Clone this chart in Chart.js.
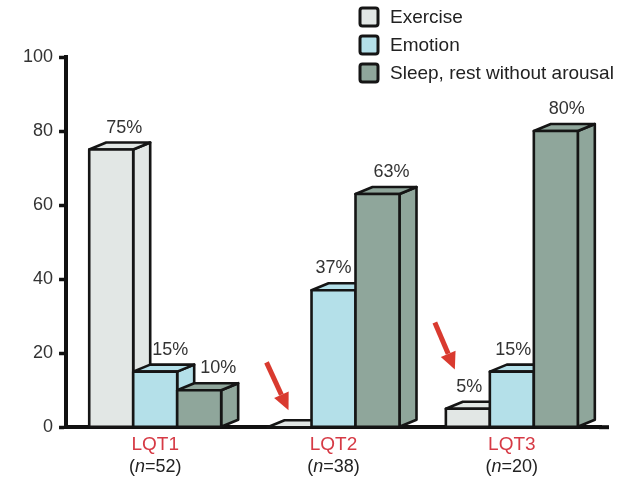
<!DOCTYPE html>
<html>
<head>
<meta charset="utf-8">
<script src="https://cdn.jsdelivr.net/npm/chart.js@4.4.1/dist/chart.umd.min.js"></script>
<style>
  html, body { margin: 0; padding: 0; background: #ffffff; }
  #wrap { width: 634px; height: 478px; position: relative; }
</style>
</head>
<body>
<div id="wrap"><canvas id="c"></canvas></div>
<script>
// ---- data ----
const categories = ['LQT1', 'LQT2', 'LQT3'];
const sampleSizes = [52, 38, 20];
const seriesNames = ['Exercise', 'Emotion', 'Sleep, rest without arousal'];
const exercise = [75, 0, 5];
const emotion = [15, 37, 15];
const sleep = [10, 63, 80];
const yTicks = [0, 20, 40, 60, 80, 100];

// ---- style ----
const FONT = "'Liberation Sans', Arial, Helvetica, sans-serif";
const COLORS = ['#e2e7e5', '#b4e0e9', '#8fa69b'];
const DEPTH_X = 17, DEPTH_Y = 7;
const LABEL_SHIFT = [[13, 0, 1.5], [15, 0, 1.5], [19, 14, 11]]; // per series, per category (px)
const ARROWS = [
  { cat: 1, tailDx: -67, tailV: 17.5, tipDx: -45, tipV: 4.6 },
  { cat: 2, tailDx: -77, tailV: 28.3, tipDx: -57, tipV: 15.6 }
];

function poly(ctx, pts) {
  ctx.beginPath();
  ctx.moveTo(pts[0][0], pts[0][1]);
  for (let k = 1; k < pts.length; k++) ctx.lineTo(pts[k][0], pts[k][1]);
  ctx.closePath();
  ctx.fill();
  ctx.stroke();
}

const bar3d = {
  id: 'bar3d',
  beforeDatasetsDraw(chart) {
    const ctx = chart.ctx;
    const nCat = chart.data.labels.length;
    const labels = [];
    ctx.save();
    ctx.lineWidth = 2.6;
    ctx.strokeStyle = '#151515';
    ctx.lineJoin = 'round';
    for (let i = 0; i < nCat; i++) {
      chart.data.datasets.forEach((ds, d) => {
        const el = chart.getDatasetMeta(d).data[i];
        const p = el.getProps(['x', 'y', 'base', 'width'], true);
        const l = p.x - p.width / 2, r = p.x + p.width / 2, t = p.y, b = p.base;
        ctx.fillStyle = ds.backgroundColor;
        poly(ctx, [[r, t], [r + DEPTH_X, t - DEPTH_Y], [r + DEPTH_X, b - DEPTH_Y], [r, b]]);
        poly(ctx, [[l, t], [l + DEPTH_X, t - DEPTH_Y], [r + DEPTH_X, t - DEPTH_Y], [r, t]]);
        if (b - t > 0.5) poly(ctx, [[l, t], [r, t], [r, b], [l, b]]);
        const v = ds.data[i];
        if (v > 0) labels.push({ x: p.x + LABEL_SHIFT[d][i], y: t - 22, text: v + '%' });
      });
    }
    ctx.fillStyle = '#333';
    ctx.font = '18px ' + FONT;
    ctx.textAlign = 'center';
    ctx.textBaseline = 'middle';
    labels.forEach(lb => ctx.fillText(lb.text, lb.x, lb.y));
    ctx.restore();
    return false;
  },
  afterDraw(chart) {
    const ctx = chart.ctx;
    const xs = chart.scales.x, ys = chart.scales.y;
    const area = chart.chartArea;
    ctx.save();
    // extend x axis line a bit to the right
    ctx.strokeStyle = '#111';
    ctx.lineWidth = 4;
    ctx.beginPath();
    ctx.moveTo(area.right - 2, ys.getPixelForValue(0));
    ctx.lineTo(area.right + 8, ys.getPixelForValue(0));
    ctx.stroke();

    // sample size labels
    ctx.fillStyle = '#222';
    ctx.textBaseline = 'middle';
    ctx.textAlign = 'left';
    const normal = '18px ' + FONT, ital = 'italic 18px ' + FONT;
    sampleSizes.forEach((n, i) => {
      const parts = [['(', normal], ['n', ital], ['=' + n + ')', normal]];
      let w = 0;
      parts.forEach(pt => { ctx.font = pt[1]; w += ctx.measureText(pt[0]).width; });
      let x = xs.getPixelForValue(i) - w / 2;
      const y = ys.getPixelForValue(0) + 40;
      parts.forEach(pt => { ctx.font = pt[1]; ctx.fillText(pt[0], x, y); x += ctx.measureText(pt[0]).width; });
    });

    // arrows
    ctx.strokeStyle = '#d93a2f';
    ctx.fillStyle = '#d93a2f';
    ctx.lineWidth = 5;
    ARROWS.forEach(a => {
      const cx = xs.getPixelForValue(a.cat);
      const x1 = cx + a.tailDx, y1 = ys.getPixelForValue(a.tailV);
      const x2 = cx + a.tipDx, y2 = ys.getPixelForValue(a.tipV);
      const ang = Math.atan2(y2 - y1, x2 - x1);
      const hl = 17, hw = 8;
      const bx = x2 - hl * Math.cos(ang), by = y2 - hl * Math.sin(ang);
      ctx.beginPath();
      ctx.moveTo(x1, y1);
      ctx.lineTo(bx, by);
      ctx.stroke();
      ctx.beginPath();
      ctx.moveTo(x2, y2);
      ctx.lineTo(bx + hw * Math.sin(ang), by - hw * Math.cos(ang));
      ctx.lineTo(bx - hw * Math.sin(ang), by + hw * Math.cos(ang));
      ctx.closePath();
      ctx.fill();
    });

    // legend
    ctx.font = '19px ' + FONT;
    ctx.textAlign = 'left';
    ctx.textBaseline = 'middle';
    chart.data.datasets.forEach((ds, d) => {
      const cy = 17 + d * 28;
      ctx.fillStyle = ds.backgroundColor;
      ctx.strokeStyle = '#151515';
      ctx.lineWidth = 3;
      ctx.beginPath();
      ctx.roundRect(360, cy - 9, 18, 18, 2.5);
      ctx.fill();
      ctx.stroke();
      ctx.fillStyle = '#222';
      ctx.fillText(ds.label, 390, cy + 1);
    });
    ctx.restore();
  }
};

const seriesValues = [exercise, emotion, sleep];
new Chart(document.getElementById('c'), {
  type: 'bar',
  data: {
    labels: categories,
    datasets: seriesNames.map((name, d) => ({
      label: name,
      data: seriesValues[d],
      backgroundColor: COLORS[d],
      borderWidth: 0
    }))
  },
  options: {
    responsive: true,
    maintainAspectRatio: false,
    animation: false,
    categoryPercentage: 0.74,
    barPercentage: 1.0,
    layout: { padding: { top: 57, left: 17, right: 33, bottom: 24 } },
    plugins: {
      legend: { display: false },
      tooltip: { enabled: false }
    },
    scales: {
      x: {
        grid: { display: false },
        border: { display: true, color: '#111', width: 4 },
        ticks: { color: '#d63a45', font: { size: 19, family: FONT }, padding: -2 }
      },
      y: {
        min: 0, max: 100,
        afterBuildTicks: s => { s.ticks = yTicks.map(v => ({ value: v })); },
        grid: { display: true, drawOnChartArea: false, drawTicks: true, tickLength: 7, tickWidth: 3.5, tickColor: '#111' },
        border: { display: true, color: '#111', width: 4 },
        ticks: { color: '#333', font: { size: 18, family: FONT }, padding: 6 }
      }
    }
  },
  plugins: [bar3d]
});
</script>
</body>
</html>
